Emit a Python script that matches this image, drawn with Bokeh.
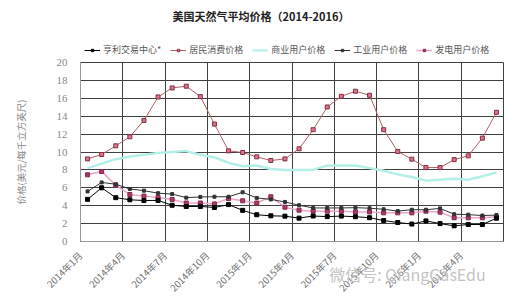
from bokeh.plotting import figure
from bokeh.layouts import column
from bokeh.models import Range1d, FixedTicker, Legend, LegendItem
from bokeh.core.properties import value
from bokeh.embed import file_html
from bokeh.resources import INLINE

tick_labels = ["2014年1月", "2014年4月", "2014年7月", "2014年10月", "2015年1月",
               "2015年4月", "2015年7月", "2015年10月", "2016年1月", "2016年4月"]

henry_hub = [4.71, 6.00, 4.90, 4.66, 4.58, 4.59, 4.05, 3.91, 3.92, 3.80,
             4.12, 3.48, 2.99, 2.87, 2.83, 2.61, 2.85, 2.78, 2.84, 2.77,
             2.66, 2.34, 2.12, 1.95, 2.30, 2.00, 1.75, 1.90, 1.90, 2.60]
residential = [9.23, 9.72, 10.69, 11.70, 13.53, 16.15, 17.16, 17.35, 16.19, 13.12,
               10.13, 9.94, 9.46, 9.05, 9.23, 10.36, 12.49, 15.03, 16.22, 16.79,
               16.34, 12.49, 10.06, 9.20, 8.26, 8.26, 9.15, 9.57, 11.55, 14.43]
commercial = [8.2, 8.7, 9.2, 9.5, 9.7, 9.9, 10.0, 10.1, 9.7, 9.4,
              8.8, 8.4, 8.5, 8.1, 8.0, 8.0, 8.0, 8.5, 8.5, 8.5,
              8.2, 7.9, 7.5, 7.2, 6.8, 6.9, 7.0, 6.9, 7.3, 7.7]
industrial = [5.60, 6.60, 6.40, 5.87, 5.68, 5.40, 5.30, 4.90, 4.98, 5.00,
              5.00, 5.50, 4.87, 4.70, 4.42, 4.05, 3.75, 3.75, 3.75, 3.78,
              3.72, 3.60, 3.40, 3.55, 3.55, 3.70, 3.05, 3.00, 2.90, 2.95]
electric = [7.45, 7.82, 6.30, 5.25, 5.07, 4.92, 4.70, 4.30, 4.30, 4.20,
            4.80, 4.55, 4.30, 5.00, 3.83, 3.50, 3.39, 3.39, 3.39, 3.31,
            3.31, 3.20, 3.20, 3.20, 3.39, 3.28, 2.65, 2.65, 2.65, 2.76]

series_names = ["亨利交易中心*", "居民消费价格", "商业用户价格", "工业用户价格", "发电用户价格"]
chart_title = "美国天然气平均价格（2014-2016）"
y_label = "价格(美元/每千立方英尺)"
watermark = "微信号: QiangGasEdu" + "\u3000" * 12

x = [i + 0.5 for i in range(len(henry_hub))]

COL_HH = "#000000"
COL_RES_L, COL_RES_M, COL_RES_O = "#b06060", "#e07090", "#803040"
COL_COM = "#b4eee8"
COL_IND = "#333333"
COL_ELE_L, COL_ELE_M, COL_ELE_O = "#eaa6c8", "#b03868", "#802848"

# ---------------- main chart ----------------
p = figure(width=517, height=245, x_range=Range1d(0, 30), y_range=Range1d(0, 20),
           output_backend="svg", toolbar_location=None, title=None,
           min_border_left=80, min_border_right=14, min_border_top=6, min_border_bottom=60)
p.background_fill_color = "white"
p.border_fill_color = "white"
p.outline_line_color = "#404040"

p.xgrid.ticker = FixedTicker(ticks=list(range(0, 31, 3)))
p.xgrid.grid_line_color = "#404040"
p.ygrid.grid_line_color = "#404040"

p.xaxis.ticker = FixedTicker(ticks=list(range(0, 30, 3)))
p.xaxis.major_label_overrides = {i * 3: t for i, t in enumerate(tick_labels)}
p.xaxis.major_label_orientation = 0.785398
p.xaxis.major_label_text_font = "Noto Sans CJK SC"
p.xaxis.major_label_text_font_size = "9.5px"
p.xaxis.major_label_text_color = "#707070"
p.xaxis.major_label_standoff = 6
p.xaxis.axis_label = watermark
p.xaxis.axis_label_text_font = "Noto Sans CJK SC"
p.xaxis.axis_label_text_font_size = "16px"
p.xaxis.axis_label_text_font_style = "normal"
p.xaxis.axis_label_text_color = "#c4c4c4"
p.xaxis.axis_label_align = "end"
p.xaxis.axis_label_standoff = -40

p.yaxis.ticker = FixedTicker(ticks=list(range(0, 21, 2)))
p.yaxis.major_label_text_font = "Liberation Serif"
p.yaxis.major_label_text_font_size = "11px"
p.yaxis.major_label_text_color = "#888888"
p.yaxis.major_label_standoff = 7
p.yaxis.axis_label = y_label
p.yaxis.axis_label_text_font = "Noto Sans CJK SC"
p.yaxis.axis_label_text_font_size = "9.5px"
p.yaxis.axis_label_text_font_style = "normal"
p.yaxis.axis_label_text_color = "#888888"
p.yaxis.axis_label_standoff = 26
for ax in (p.xaxis, p.yaxis):
    ax.major_tick_line_color = None
    ax.minor_tick_line_color = None
    ax.axis_line_color = "#999999"

p.line(x, commercial, line_color=COL_COM, line_width=2.5)
p.line(x, electric, line_color=COL_ELE_L, line_width=1.5)
p.scatter(x, electric, marker="square", size=4, fill_color=COL_ELE_M, line_color=COL_ELE_O)
p.line(x, industrial, line_color=COL_IND, line_width=1)
p.scatter(x, industrial, marker="square", size=3, fill_color=COL_IND, line_color=COL_IND)
p.line(x, henry_hub, line_color=COL_HH, line_width=1)
p.scatter(x, henry_hub, marker="square", size=4, fill_color=COL_HH, line_color=COL_HH)
p.line(x, residential, line_color=COL_RES_L, line_width=1)
p.scatter(x, residential, marker="square", size=4, fill_color=COL_RES_M, line_color=COL_RES_O)

# ---------------- header: title + legend ----------------
# header frame is aligned by the column with the main frame (x: 80..503 px)
h = figure(width=517, height=56, x_range=Range1d(80, 503), y_range=Range1d(0, 56),
           output_backend="svg", toolbar_location=None, title=None,
           x_axis_location=None, y_axis_location=None,
           min_border_left=0, min_border_right=0, min_border_top=0, min_border_bottom=0)
h.grid.visible = False
h.outline_line_color = None
h.background_fill_color = "white"
h.border_fill_color = "white"

h.text(x=[172], y=[56 - 15], text=[chart_title], text_font_size="11px",
       text_font_style="bold", text_color="#222222", text_baseline="middle",
       text_font=value("Noto Sans CJK SC"))

nan = [float("nan")]
r_hh = [h.line(nan, nan, line_color=COL_HH), h.scatter(nan, nan, marker="square", size=4, color=COL_HH)]
r_res = [h.line(nan, nan, line_color=COL_RES_L),
         h.scatter(nan, nan, marker="square", size=4, fill_color=COL_RES_M, line_color=COL_RES_O)]
r_com = [h.line(nan, nan, line_color=COL_COM, line_width=2)]
r_ind = [h.line(nan, nan, line_color=COL_IND), h.scatter(nan, nan, marker="square", size=3, color=COL_IND)]
r_ele = [h.line(nan, nan, line_color=COL_ELE_L, line_width=1.5),
         h.scatter(nan, nan, marker="square", size=4, fill_color=COL_ELE_M, line_color=COL_ELE_O)]

legend = Legend(items=[LegendItem(label=n, renderers=r) for n, r in
                       zip(series_names, [r_hh, r_res, r_com, r_ind, r_ele])],
                orientation="horizontal", location=(4, 0))
legend.label_text_font = "Noto Sans CJK SC"
legend.label_text_font_size = "9px"
legend.label_text_color = "#555555"
legend.glyph_width = 16
legend.glyph_height = 6
legend.label_height = 9
legend.label_standoff = 3
legend.spacing = 9
legend.padding = 0
legend.margin = 0
legend.border_line_color = None
legend.background_fill_alpha = 0
h.add_layout(legend)

layout = column(h, p, spacing=0)
open("out.html", "w").write(file_html(layout, INLINE))
